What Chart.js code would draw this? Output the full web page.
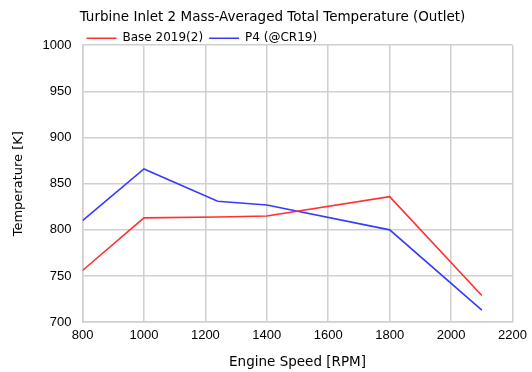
<!DOCTYPE html>
<html>
<head>
<meta charset="utf-8">
<script src="https://cdn.jsdelivr.net/npm/chart.js@4"></script>
<style>
  html, body { margin: 0; padding: 0; background: #fff; }
  #wrap { width: 532px; height: 372px; }
</style>
</head>
<body>
<div id="wrap"><canvas id="lineChart"></canvas></div>
<script>
const speeds = [800, 1000, 1240, 1400, 1800, 2100];
const baseTemps = [756, 813, 814, 815, 836, 729];
const p4Temps = [810, 866, 831, 827, 800, 713];
const seriesLabels = ["Base 2019(2)", "P4 (@CR19)"];
const xTicks = [800, 1000, 1200, 1400, 1600, 1800, 2000, 2200];
const yTicks = [700, 750, 800, 850, 900, 950, 1000];

const textFont = "'DejaVu Sans', sans-serif";
const tickFont = "'Liberation Sans', Arial, sans-serif";
const toPoints = (ys) => speeds.map((x, i) => ({ x: x, y: ys[i] }));

// the reference legend sits tight on the plot and starts over its left edge
const legendShift = {
  id: "legendShift",
  beforeLayout(chart) {
    const lg = chart.legend;
    if (lg && !lg._tight) {
      const fit = lg.fit.bind(lg);
      lg.fit = function () {
        fit();
        this.height -= 9;
      };
      lg._tight = true;
    }
  },
  afterLayout(chart) {
    chart.legend.left = chart.chartArea.left - 2;
  },
};

const ctx = document.getElementById("lineChart").getContext("2d");

new Chart(ctx, {
  type: "scatter",
  data: {
    datasets: [
      {
        label: seriesLabels[0],
        data: toPoints(baseTemps),
        borderColor: "#ff3030",
        backgroundColor: "#ff3030",
        borderWidth: 1.6,
        showLine: true,
        pointRadius: 0,
      },
      {
        label: seriesLabels[1],
        data: toPoints(p4Temps),
        borderColor: "#3a3aff",
        backgroundColor: "#3a3aff",
        borderWidth: 1.6,
        showLine: true,
        pointRadius: 0,
      },
    ],
  },
  plugins: [legendShift],
  options: {
    responsive: true,
    maintainAspectRatio: false,
    animation: false,
    layout: { padding: { left: 11, right: -2, top: 0, bottom: 1 } },
    plugins: {
      title: {
        display: true,
        text: "Turbine Inlet 2 Mass-Averaged Total Temperature (Outlet)",
        color: "#000",
        font: { family: textFont, size: 13.5, weight: "normal" },
        padding: { top: 9, bottom: 1 },
      },
      legend: {
        align: "start",
        labels: {
          color: "#000",
          font: { family: textFont, size: 12 },
          boxWidth: 30,
          boxHeight: 0,
          padding: 6,
          generateLabels: (chart) =>
            chart.data.datasets.map((ds, i) => ({
              text: ds.label,
              strokeStyle: ds.borderColor,
              fillStyle: ds.borderColor,
              lineWidth: 1.6,
              datasetIndex: i,
            })),
        },
      },
      tooltip: { enabled: false },
    },
    scales: {
      x: {
        type: "linear",
        min: 800,
        max: 2200,
        afterBuildTicks: (axis) => {
          axis.ticks = xTicks.map((v) => ({ value: v }));
        },
        grid: { color: "#d0d0d0", lineWidth: 1.5, drawTicks: false },
        border: { color: "#d0d0d0", width: 1.5 },
        ticks: {
          color: "#000",
          font: { family: tickFont, size: 13 },
          padding: 5,
          maxRotation: 0,
          callback: (v) => String(v),
        },
        title: {
          display: true,
          text: "Engine Speed [RPM]",
          color: "#000",
          font: { family: textFont, size: 13.5 },
          padding: { top: 7, bottom: 0 },
        },
      },
      y: {
        type: "linear",
        min: 700,
        max: 1000,
        afterBuildTicks: (axis) => {
          axis.ticks = yTicks.map((v) => ({ value: v }));
        },
        grid: { color: "#d0d0d0", lineWidth: 1.5, drawTicks: false },
        border: { color: "#d0d0d0", width: 1.5 },
        ticks: {
          color: "#000",
          font: { family: tickFont, size: 13, lineHeight: 0.2 },
          padding: 11,
          callback: (v) => String(v),
        },
        title: {
          display: true,
          text: "Temperature [K]",
          color: "#000",
          font: { family: textFont, size: 13 },
          padding: { top: 0, bottom: 5 },
        },
      },
    },
  },
});
</script>
</body>
</html>
